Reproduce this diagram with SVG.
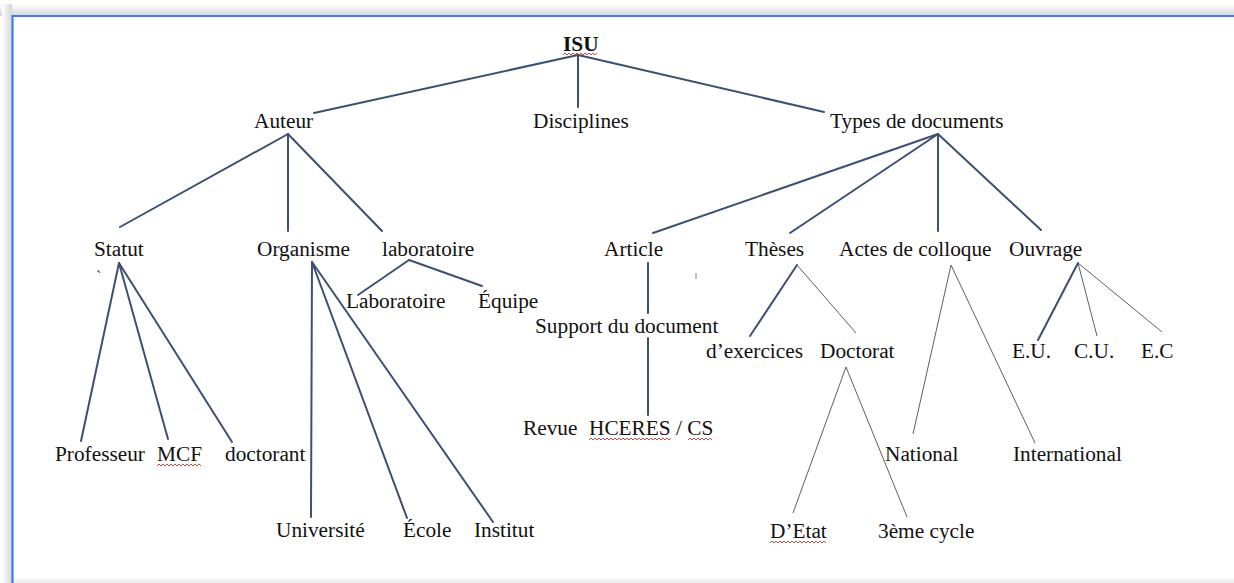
<svg xmlns="http://www.w3.org/2000/svg" width="1234" height="583" viewBox="0 0 1234 583">
<defs>
<linearGradient id="shTop" x1="0" y1="0" x2="0" y2="1">
<stop offset="0" stop-color="#ffffff"/><stop offset="1" stop-color="#d6d6d6"/>
</linearGradient>
<linearGradient id="shLeft" x1="0" y1="0" x2="1" y2="0">
<stop offset="0" stop-color="#ffffff"/><stop offset="1" stop-color="#d6d6d6"/>
</linearGradient>
<linearGradient id="shBot" x1="0" y1="0" x2="0" y2="1">
<stop offset="0" stop-color="#ffffff"/><stop offset="1" stop-color="#ececec"/>
</linearGradient>
</defs>
<style>
text{font-family:"Liberation Serif","Times New Roman",serif;font-size:21.3px;fill:#111}
.b{font-weight:bold}
.k{stroke:#3d5073;stroke-width:2;fill:none;stroke-linecap:round}
.t{stroke:#5a5f68;stroke-width:1;fill:none}
.w{stroke:#c0392b;stroke-width:0.9;fill:none}
</style>
<rect width="1234" height="583" fill="#ffffff"/>
<rect x="0" y="4" width="1234" height="12" fill="url(#shTop)"/>
<rect x="2" y="4" width="10" height="579" fill="url(#shLeft)"/>
<rect x="12" y="576" width="1222" height="7" fill="url(#shBot)"/>
<rect x="13" y="17" width="1221" height="559" fill="#ffffff"/>
<line x1="12.5" y1="16" x2="1234" y2="16" stroke="#3d7af5" stroke-width="2.2"/>
<line x1="12.5" y1="15" x2="12.5" y2="583" stroke="#3d7af5" stroke-width="2.2"/>

<g id="connectors">
<line class="k" x1="578" y1="55" x2="314" y2="113"/>
<line class="k" x1="578" y1="55" x2="578" y2="107"/>
<line class="k" x1="578" y1="55" x2="824" y2="112"/>
<line class="k" x1="288" y1="134" x2="120" y2="227"/>
<line class="k" x1="288" y1="134" x2="288" y2="231"/>
<line class="k" x1="288" y1="134" x2="382" y2="231"/>
<line class="k" x1="119" y1="263" x2="81" y2="441"/>
<line class="k" x1="119" y1="263" x2="168" y2="439"/>
<line class="k" x1="119" y1="263" x2="232" y2="442"/>
<line class="k" x1="312" y1="262" x2="311" y2="517"/>
<line class="k" x1="312" y1="262" x2="407" y2="518"/>
<line class="k" x1="312" y1="262" x2="493" y2="522"/>
<line class="k" x1="409" y1="260" x2="358" y2="295"/>
<line class="k" x1="409" y1="260" x2="482" y2="286"/>
<line class="k" x1="938" y1="134" x2="653" y2="233"/>
<line class="k" x1="938" y1="134" x2="790" y2="233"/>
<line class="k" x1="938" y1="134" x2="938" y2="231"/>
<line class="k" x1="938" y1="134" x2="1041" y2="230"/>
<line class="k" x1="648" y1="263" x2="648" y2="313"/>
<line class="k" x1="648" y1="338" x2="648" y2="415"/>
<line class="k" x1="797" y1="265" x2="750" y2="336"/>
<line class="k" x1="1078" y1="263" x2="1038" y2="340"/>
<line class="t" x1="797" y1="265" x2="856" y2="333"/>
<line class="t" x1="951" y1="265" x2="913" y2="434"/>
<line class="t" x1="951" y1="265" x2="1035" y2="443"/>
<line class="t" x1="1078" y1="263" x2="1097" y2="336"/>
<line class="t" x1="1078" y1="263" x2="1162" y2="332"/>
<line class="t" x1="846" y1="367" x2="793" y2="513"/>
<line class="t" x1="846" y1="367" x2="907" y2="517"/>
</g>

<g id="n-isu"><text class="b" x="563" y="51">ISU</text><path class="w" d="M563 55 l2 -2 l2 2 l2 -2 l2 2 l2 -2 l2 2 l2 -2 l2 2 l2 -2 l2 2 l2 -2 l2 2 l2 -2 l2 2 l2 -2 l2 2 l2 -2"/></g>
<g id="n-auteur"><text x="254" y="128">Auteur</text></g>
<g id="n-disciplines"><text x="533" y="128">Disciplines</text></g>
<g id="n-types"><text x="830" y="128">Types de documents</text></g>
<g id="n-statut"><text x="94" y="256">Statut</text><text x="96" y="282" style="font-size:16px">`</text></g>
<g id="n-organisme"><text x="257" y="256">Organisme</text></g>
<g id="n-laboratoire"><text x="382" y="256">laboratoire</text></g>
<g id="n-laboratoire2"><text x="346" y="308">Laboratoire</text></g>
<g id="n-equipe"><text x="478" y="308">Équipe</text></g>
<g id="n-professeur"><text x="55" y="461">Professeur</text></g>
<g id="n-mcf"><text x="157" y="461">MCF</text><path class="w" d="M157 466 l2 -2 l2 2 l2 -2 l2 2 l2 -2 l2 2 l2 -2 l2 2 l2 -2 l2 2 l2 -2 l2 2 l2 -2 l2 2 l2 -2 l2 2 l2 -2 l2 2 l2 -2 l2 2 l2 -2 l2 2"/></g>
<g id="n-doctorant"><text x="225" y="461">doctorant</text></g>
<g id="n-universite"><text x="276" y="537">Université</text></g>
<g id="n-ecole"><text x="403" y="537">École</text></g>
<g id="n-institut"><text x="474" y="537">Institut</text></g>
<g id="n-article"><text x="604" y="256">Article</text></g>
<g id="n-support"><text x="535" y="333">Support du document</text></g>
<g id="n-revue"><text x="523" y="435">Revue</text><text x="589" y="435">HCERES / CS</text>
<path class="w" d="M589 440 l2 -2 l2 2 l2 -2 l2 2 l2 -2 l2 2 l2 -2 l2 2 l2 -2 l2 2 l2 -2 l2 2 l2 -2 l2 2 l2 -2 l2 2 l2 -2 l2 2 l2 -2 l2 2 l2 -2 l2 2 l2 -2 l2 2 l2 -2 l2 2 l2 -2 l2 2 l2 -2 l2 2 l2 -2 l2 2 l2 -2 l2 2 l2 -2 l2 2 l2 -2 l2 2 l2 -2 l2 2 l2 -2"/>
<path class="w" d="M688 440 l2 -2 l2 2 l2 -2 l2 2 l2 -2 l2 2 l2 -2 l2 2 l2 -2 l2 2 l2 -2 l2 2"/></g>
<g id="n-theses"><text x="745" y="256">Thèses</text></g>
<g id="n-actes"><text x="839" y="256">Actes de colloque</text></g>
<g id="n-ouvrage"><text x="1009" y="256">Ouvrage</text></g>
<g id="n-exercices"><text x="706" y="358">d’exercices</text></g>
<g id="n-doctorat"><text x="820" y="358">Doctorat</text></g>
<g id="n-eu"><text x="1012" y="358">E.U.</text></g>
<g id="n-cu"><text x="1074" y="358">C.U.</text></g>
<g id="n-ec"><text x="1141" y="358">E.C</text></g>
<g id="n-national"><text x="885" y="461">National</text></g>
<g id="n-international"><text x="1013" y="461">International</text></g>
<g id="n-detat"><text x="770" y="538">D’Etat</text><path class="w" d="M770 543 l2 -2 l2 2 l2 -2 l2 2 l2 -2 l2 2 l2 -2 l2 2 l2 -2 l2 2 l2 -2 l2 2 l2 -2 l2 2 l2 -2 l2 2 l2 -2 l2 2 l2 -2 l2 2 l2 -2 l2 2 l2 -2 l2 2 l2 -2 l2 2 l2 -2 l2 2"/></g>
<g id="n-3eme"><text x="878" y="538">3ème cycle</text></g>
<line x1="696" y1="273" x2="696" y2="279" stroke="#888" stroke-width="1"/>
</svg>
